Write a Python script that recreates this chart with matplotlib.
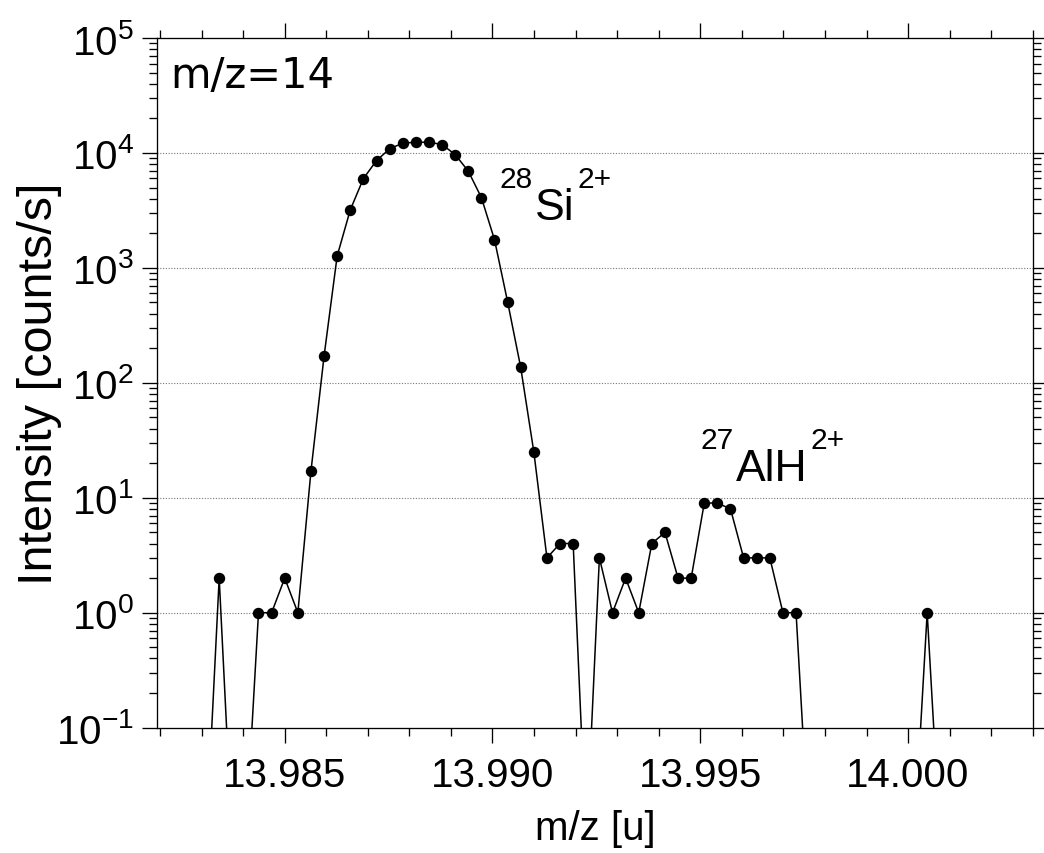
import matplotlib as mpl
mpl.use('agg')
import matplotlib.pyplot as plt
from matplotlib.ticker import MultipleLocator, LogLocator, NullFormatter
import numpy as np

# m/z channel positions [u]
mz = [13.983107, 13.983423, 13.983738, 13.984054, 13.984369, 13.984685,
      13.985000, 13.985316, 13.985631, 13.985947, 13.986262, 13.986578,
      13.986893, 13.987209, 13.987524, 13.987840, 13.988155, 13.988471,
      13.988786, 13.989102, 13.989417, 13.989733, 13.990048, 13.990364,
      13.990679, 13.990995, 13.991310, 13.991626, 13.991941, 13.992257,
      13.992572, 13.992888, 13.993203, 13.993519, 13.993834, 13.994150,
      13.994465, 13.994781, 13.995096, 13.995412, 13.995727, 13.996043,
      13.996358, 13.996674, 13.996989, 13.997305, 13.997620, 13.997936,
      13.998251, 13.998567, 13.998882, 13.999198, 13.999513, 13.999829,
      14.000144, 14.000460, 14.000775]

# intensity [counts/s], 0 = nothing counted
counts = [0, 2, 0, 0, 1, 1,
          2, 1, 17, 171, 1270, 3200,
          5980, 8590, 10860, 12170, 12400, 12400,
          11840, 9680, 6950, 4090, 1760, 506,
          136, 25, 3, 4, 4, 0,
          3, 1, 2, 1, 4, 5,
          2, 2, 9, 9, 8, 3,
          3, 3, 1, 1, 0, 0,
          0, 0, 0, 0, 0, 0,
          0, 1, 0]

zero_floor = 1e-2  # where zero counts end up on the log axis

# peak labels: (isotope, species, charge, m/z, intensity of baseline)
peak_labels = [('28', 'Si', '2+', 13.991023, 2670),
               ('27', 'AlH', '2+', 13.995859, 14.3)]

plt.rcParams['font.family'] = ['Liberation Sans', 'DejaVu Sans']
plt.rcParams['mathtext.fontset'] = 'custom'
plt.rcParams['mathtext.rm'] = 'Liberation Sans'
plt.rcParams['mathtext.it'] = 'Liberation Sans:italic'
plt.rcParams['mathtext.default'] = 'regular'
plt.rcParams['axes.unicode_minus'] = False

fig = plt.figure(figsize=(10.44, 8.54), dpi=100)
ax = fig.add_axes([0.1504, 0.1468, 0.8388, 0.8075])

y = np.where(np.array(counts) > 0, counts, zero_floor)
ax.plot(mz, y, color='black', lw=1.1, marker='o', ms=7.2, mfc='black', mec='black')

ax.set_yscale('log')
ax.set_xlim(13.981927, 14.003)
ax.set_ylim(1e-1, 1e5)

ax.xaxis.set_major_locator(MultipleLocator(0.005))
ax.xaxis.set_minor_locator(MultipleLocator(0.001))
ax.xaxis.set_major_formatter(plt.FuncFormatter(lambda v, p: '%.3f' % v))
ax.yaxis.set_major_locator(LogLocator(base=10, numticks=10))
ax.yaxis.set_minor_locator(LogLocator(base=10, subs=np.arange(2, 10), numticks=20))
ax.yaxis.set_minor_formatter(NullFormatter())

ax.tick_params(which='both', direction='out', top=True, right=True, width=0.95)
ax.tick_params(which='major', length=10.8, labelsize=29)
ax.tick_params(axis='x', which='major', pad=9.5)
ax.tick_params(axis='y', which='major', pad=6)
ax.tick_params(which='minor', length=5.5)
for s in ax.spines.values():
    s.set_linewidth(0.95)

for dec in [1e0, 1e1, 1e2, 1e3, 1e4]:
    ax.axhline(dec, color='#777777', lw=0.8, ls=(0, (1, 1.5)), zorder=0)

ax.set_xlabel('m/z [u]', fontsize=29, labelpad=11)
ax.set_ylabel('Intensity [counts/s]', fontsize=35)
ax.yaxis.set_label_coords(-0.109, 0.5)

ax.text(0.0148, 0.929, 'm/z=14', transform=ax.transAxes, fontsize=30,
        family='DejaVu Sans', va='baseline', ha='left')

# species name with isotope number before and charge after, both raised
main_size = 32
sup_size = 21.5
rise = 0.716 * main_size
fig.canvas.draw()
for iso, name, charge, xm, yb in peak_labels:
    t = ax.text(xm, yb, name, fontsize=main_size, va='baseline', ha='left')
    w = t.get_window_extent(fig.canvas.get_renderer()).width * 72.0 / fig.dpi
    ax.annotate(iso, (xm, yb), xytext=(-1.5, rise), textcoords='offset points',
                fontsize=sup_size, va='baseline', ha='right')
    ax.annotate(charge, (xm, yb), xytext=(w + 2, rise), textcoords='offset points',
                fontsize=sup_size, va='baseline', ha='left')

plt.savefig('out.png', dpi=100)
